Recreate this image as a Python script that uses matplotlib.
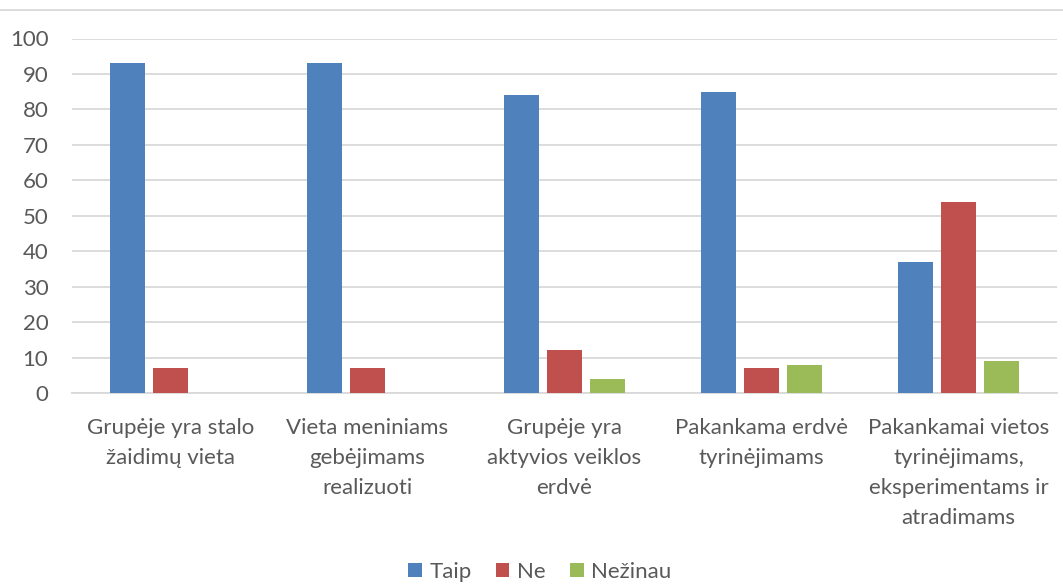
import numpy as np
import matplotlib.pyplot as plt
from matplotlib.lines import Line2D

categories = ["Grupėje yra stalo\nžaidimų vieta",
              "Vieta meniniams\ngebėjimams\nrealizuoti",
              "Grupėje yra\naktyvios veiklos\nerdvė",
              "Pakankama erdvė\ntyrinėjimams",
              "Pakankamai vietos\ntyrinėjimams,\neksperimentams ir\natradimams"]
taip = [93, 93, 84, 85, 37]
ne = [7, 7, 12, 7, 54]
nezinau = [0, 0, 4, 8, 9]
series_names = ["Taip", "Ne", "Nežinau"]
colors = ["#4F81BD", "#C0504D", "#9BBB59"]

plt.rcParams['font.family'] = ['Lato', 'DejaVu Sans']

fig = plt.figure(figsize=(10.63, 5.85), dpi=100)
ax = fig.add_axes([72/1063, 1-393/585, (1057-72)/1063, (393-38.5)/585])

x = np.arange(len(categories))
w = 0.178
step = 0.219
for i, (vals, name, c) in enumerate(zip([taip, ne, nezinau], series_names, colors)):
    ax.bar(x + (i-1)*step, vals, w, color=c, label=name, zorder=3)

ax.set_xlim(-0.5, 4.5)
ax.set_ylim(0, 100)
ax.set_yticks(range(0, 101, 10))
ax.yaxis.grid(True, color="#D9D9D9", linewidth=1.3, zorder=0)
ax.set_axisbelow(True)
for s in ["top", "right", "left"]:
    ax.spines[s].set_visible(False)
ax.spines["bottom"].set_color("#D9D9D9")
ax.spines["bottom"].set_linewidth(1.3)
ax.tick_params(axis="both", length=0, labelsize=16, labelcolor="#595959")
ax.tick_params(axis="y", pad=17)
ax.tick_params(axis="x", pad=18)
ax.set_xticks(x)
ax.set_xticklabels(categories, linespacing=1.62, va="top")

# chart border line at top
fig.add_artist(Line2D([0, 1], [1-10/585, 1-10/585], color="#D9D9D9", linewidth=1.3))

leg = fig.legend(loc="center", bbox_to_anchor=(540/1063, 1-572/585), ncol=3, frameon=False,
                 fontsize=16, handlelength=0.6, handleheight=0.6, handletextpad=0.35, columnspacing=1.1)
for t in leg.get_texts():
    t.set_color("#595959")

fig.savefig("out.png", dpi=100)
